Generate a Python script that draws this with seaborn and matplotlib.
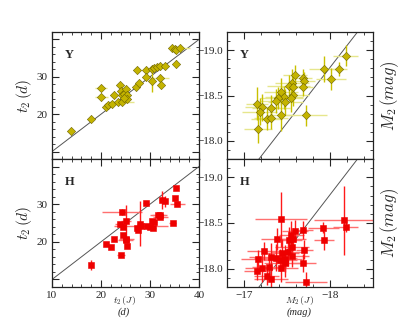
import numpy as np
import pandas as pd
import matplotlib
matplotlib.use("Agg")
import matplotlib.pyplot as plt
import seaborn as sns
from matplotlib.ticker import MultipleLocator, FuncFormatter

sns.set_theme(style="ticks")
plt.rcParams['font.family'] = ['Liberation Serif', 'DejaVu Serif']
plt.rcParams['mathtext.fontset'] = 'cm'
plt.rcParams['axes.unicode_minus'] = True

# ---------------- Y band: t2 ----------------
yt_x = [13.9, 18.0, 20.0, 20.1, 21.0, 21.5, 22.2, 22.6, 23.4, 23.9, 24.2, 24.1, 24.3, 24.7, 25.0, 25.3,
        25.4, 24.6, 27.2, 27.7, 27.4, 29.2, 29.2, 30.5, 30.5, 30.8, 31.4, 32.0, 33.1, 32.0, 32.3,
        34.5, 35.0, 35.4, 36.2, 35.4]
yt_y = [15.6, 18.8, 27.1, 24.5, 21.8, 22.4, 22.7, 25.2, 23.2, 27.8, 23.2, 26.2, 25.2, 25.5, 26.8, 25.2,
        24.1, 24.3, 27.4, 28.3, 31.8, 31.8, 29.9, 32.0, 29.0, 32.3, 32.6, 32.9, 32.9, 29.8, 27.7,
        37.6, 37.4, 37.1, 37.6, 33.5]
yt_xerr = [0.4, 0.4, 1.2, 1.4, 0.4, 0.4, 0.4, 0.5, 0.5, 0.4, 2.5, 0.5, 0.5, 0.5, 0.6, 0.8,
           0.5, 0.5, 0.4, 0.4, 0.5, 0.4, 0.4, 0.4, 0.5, 0.4, 0.4, 0.5, 0.4, 1.9, 0.4,
           0.5, 0.5, 0.5, 2.0, 0.4]
yt_yerr = [0.4, 0.4, 0.5, 0.5, 0.4, 0.4, 0.4, 0.5, 0.5, 0.5, 0.4, 0.5, 0.5, 0.5, 0.5, 0.5,
           0.5, 0.5, 0.4, 0.4, 0.5, 0.4, 0.4, 0.4, 3.1, 0.4, 0.4, 0.4, 0.4, 0.5, 0.5,
           0.4, 0.4, 0.4, 0.4, 1.0]

# ---------------- Y band: M2 ----------------
ym_x = [-18.18, -17.93, -18.10, -18.01, -17.59, -17.69, -17.70, -17.56, -17.52, -17.68, -17.57, -17.43,
        -17.57, -17.46, -17.39, -17.54, -17.48, -17.37, -17.15, -17.21, -17.18, -17.31, -17.26, -17.31,
        -17.43, -17.72, -17.16]
ym_y = [-18.94, -18.79, -18.79, -18.68, -18.73, -18.69, -18.66, -18.64, -18.61, -18.59, -18.59, -18.54,
        -18.51, -18.48, -18.47, -18.47, -18.43, -18.44, -18.41, -18.37, -18.32, -18.36, -18.24, -18.25,
        -18.29, -18.28, -18.13]
ym_xerr = [0.14, 0.18, 0.10, 0.17, 0.14, 0.10, 0.12, 0.20, 0.25, 0.12, 0.15, 0.20,
           0.18, 0.22, 0.20, 0.15, 0.20, 0.20, 0.13, 0.20, 0.20, 0.22, 0.18, 0.20,
           0.15, 0.25, 0.16]
ym_yerr = [0.12, 0.14, 0.08, 0.12, 0.11, 0.10, 0.10, 0.15, 0.12, 0.10, 0.12, 0.15,
           0.13, 0.13, 0.12, 0.15, 0.14, 0.13, 0.18, 0.15, 0.15, 0.15, 0.12, 0.12,
           0.18, 0.12, 0.15]

# ---------------- H band: t2 ----------------
ht_x = [18.0, 21.1, 22.1, 22.6, 24.0, 24.3, 23.9, 24.4, 25.1, 24.5, 25.0, 25.2, 25.4, 27.9, 27.3, 27.6,
        28.1, 29.1, 29.3, 29.9, 30.7, 30.5, 30.9, 31.6, 32.1, 32.0, 32.4, 33.0, 34.6, 35.2, 35.6, 35.4]
ht_y = [13.9, 19.5, 18.7, 20.8, 16.4, 27.9, 24.7, 24.0, 25.5, 21.7, 20.5, 20.8, 19.0, 24.8, 23.6, 23.1,
        24.1, 30.3, 24.3, 24.0, 23.8, 25.4, 25.2, 27.1, 26.5, 27.0, 31.1, 30.8, 24.9, 31.6, 30.1, 34.2]
ht_xerr = [0.3, 0.3, 0.3, 0.4, 0.8, 4.0, 1.0, 0.5, 1.0, 0.5, 1.5, 1.5, 0.4, 0.5, 0.4, 0.4,
           5.5, 0.6, 0.5, 0.5, 0.5, 0.6, 0.6, 1.5, 1.5, 1.5, 0.5, 0.5, 0.7, 0.4, 1.5, 0.6]
ht_yerr = [1.3, 0.4, 0.4, 0.4, 0.5, 0.8, 0.5, 0.5, 4.2, 0.5, 0.5, 0.5, 0.6, 6.0, 0.5, 0.5,
           0.5, 0.6, 0.5, 0.5, 0.5, 0.5, 0.5, 0.5, 0.5, 0.5, 2.4, 1.5, 0.4, 0.4, 0.5, 0.5]

# ---------------- H band: M2 ----------------
hm_x = [-18.16, -18.18, -17.92, -17.93, -17.43, -17.68, -17.59, -17.55, -17.38, -17.52, -17.57, -17.56,
        -17.70, -17.23, -17.44, -17.51, -17.56, -17.31, -17.37, -17.42, -17.47, -17.16, -17.69, -17.48,
        -17.29, -17.43, -17.21, -17.15, -17.31, -17.26, -17.72]
hm_y = [-18.53, -18.46, -18.45, -18.31, -18.54, -18.42, -18.41, -18.37, -18.32, -18.31, -18.32, -18.24,
        -18.21, -18.19, -18.17, -18.18, -18.14, -18.13, -18.12, -18.10, -18.11, -18.11, -18.06, -18.06,
        -18.02, -18.01, -18.01, -17.98, -17.89, -17.92, -17.86]
hm_xerr = [0.35, 0.14, 0.18, 0.12, 0.30, 0.12, 0.15, 0.15, 0.18, 0.15, 0.15, 0.20,
           0.10, 0.20, 0.20, 0.20, 0.20, 0.25, 0.25, 0.20, 0.20, 0.20, 0.15, 0.25,
           0.20, 0.20, 0.20, 0.15, 0.20, 0.15, 0.25]
hm_yerr = [0.38, 0.06, 0.06, 0.10, 0.30, 0.10, 0.12, 0.15, 0.12, 0.15, 0.12, 0.10,
           0.10, 0.10, 0.15, 0.15, 0.12, 0.15, 0.15, 0.12, 0.15, 0.10, 0.10, 0.15,
           0.15, 0.15, 0.15, 0.10, 0.12, 0.10, 0.10]

# fitted relation shown in the magnitude panels
m_slope, m_icpt = 1.22, 3.15

fig = plt.figure(figsize=(4.15, 3.2), dpi=100)
W = 415.0
H = 320.0
def pos(l, t, r, b):
    return [l / W, 1 - b / H, (r - l) / W, (b - t) / H]

ax_tl = fig.add_axes(pos(52, 32, 199, 159))
ax_tr = fig.add_axes(pos(227, 32, 373, 159))
ax_bl = fig.add_axes(pos(52, 159, 199, 287))
ax_br = fig.add_axes(pos(227, 159, 373, 287))

YEL_FACE = '#c4b400'
YEL_EDGE = '#6e6400'
YEL_V = '#c8c000'
YEL_H = '#e6e68c'
RED = '#ee0000'
RED_V = '#ff1a1a'
RED_H = '#ff7070'

def draw(ax, x, y, xe, ye, marker, face, edge, cv, ch, size):
    ax.errorbar(x, y, xerr=xe, fmt='none', ecolor=ch, elinewidth=1.0, capsize=0, zorder=2)
    ax.errorbar(x, y, yerr=ye, fmt='none', ecolor=cv, elinewidth=1.0, capsize=0, zorder=2)
    df = pd.DataFrame({'x': x, 'y': y})
    sns.scatterplot(data=df, x='x', y='y', ax=ax, marker=marker, color=face,
                    edgecolor=edge, linewidth=0.4, s=size, zorder=3, legend=False)

draw(ax_tl, yt_x, yt_y, yt_xerr, yt_yerr, 'D', YEL_FACE, YEL_EDGE, YEL_V, YEL_H, 18)
draw(ax_tr, ym_x, ym_y, ym_xerr, ym_yerr, 'D', YEL_FACE, YEL_EDGE, YEL_V, YEL_H, 18)
draw(ax_bl, ht_x, ht_y, ht_xerr, ht_yerr, 's', RED, RED, RED_V, RED_H, 14)
draw(ax_br, hm_x, hm_y, hm_xerr, hm_yerr, 's', RED, RED, RED_V, RED_H, 14)

line_kw = dict(color='#555555', lw=0.7, zorder=1)
for ax in (ax_tl, ax_bl):
    ax.plot([5, 45], [5, 45], **line_kw)
    ax.set_xlim(10, 40)
    ax.set_ylim(8, 42)
    ax.xaxis.set_major_locator(MultipleLocator(10))
    ax.xaxis.set_minor_locator(MultipleLocator(2))
    ax.yaxis.set_major_locator(MultipleLocator(10))
    ax.yaxis.set_minor_locator(MultipleLocator(2))
    ax.yaxis.set_major_formatter(FuncFormatter(lambda v, p: f"{v:.0f}" if 15 < v < 35 else ""))
    ax.set_ylabel(r"$t_2\,(d)$", fontsize=11, labelpad=2)

mx = np.array([-16.5, -18.7])
for ax in (ax_tr, ax_br):
    ax.plot(mx, m_slope * mx + m_icpt, **line_kw)
    ax.set_xlim(-16.8, -18.5)
    ax.set_ylim(-17.8, -19.2)
    ax.xaxis.set_major_locator(MultipleLocator(1))
    ax.xaxis.set_minor_locator(MultipleLocator(0.2))
    ax.yaxis.set_major_locator(MultipleLocator(0.5))
    ax.yaxis.set_minor_locator(MultipleLocator(0.1))
    ax.xaxis.set_major_formatter(FuncFormatter(lambda v, p: f"\u2212{abs(v):.0f}"))
    ax.yaxis.set_major_formatter(FuncFormatter(lambda v, p: f"\u2212{abs(v):.1f}"))
    ax.yaxis.set_label_position('right')
    ax.set_ylabel(r"$M_2\,(mag)$", fontsize=12, labelpad=4)

for ax in (ax_tl, ax_tr, ax_bl, ax_br):
    ax.tick_params(which='both', direction='in', top=True, right=True, labelsize=8, pad=3)
    ax.tick_params(which='major', length=5, width=0.8)
    ax.tick_params(which='minor', length=2.5, width=0.6)
    for s in ax.spines.values():
        s.set_linewidth(0.9)
        s.set_color('#222222')
    ax.set_xlabel("")

for ax in (ax_tl, ax_tr):
    ax.tick_params(labelbottom=False)

# two-line x labels, placed below the bottom panels
fig.text(124 / W, 1 - 303 / H, r"$t_2\,(J)$", fontsize=7, ha='center', va='baseline')
fig.text(124 / W, 1 - 314.5 / H, "(d)", fontsize=7.5, fontstyle='italic',
         ha='center', va='baseline')
fig.text(299 / W, 1 - 303 / H, r"$M_2\,(J)$", fontsize=7, ha='center', va='baseline')
fig.text(299 / W, 1 - 314.5 / H, "(mag)", fontsize=7.5, fontstyle='italic',
         ha='center', va='baseline')

for ax, lab in ((ax_tl, 'Y'), (ax_tr, 'Y'), (ax_bl, 'H'), (ax_br, 'H')):
    ax.text(0.12, 0.82, lab, transform=ax.transAxes, fontsize=9, fontweight='bold',
            ha='center', va='center')

fig.savefig('out.png', dpi=100)
